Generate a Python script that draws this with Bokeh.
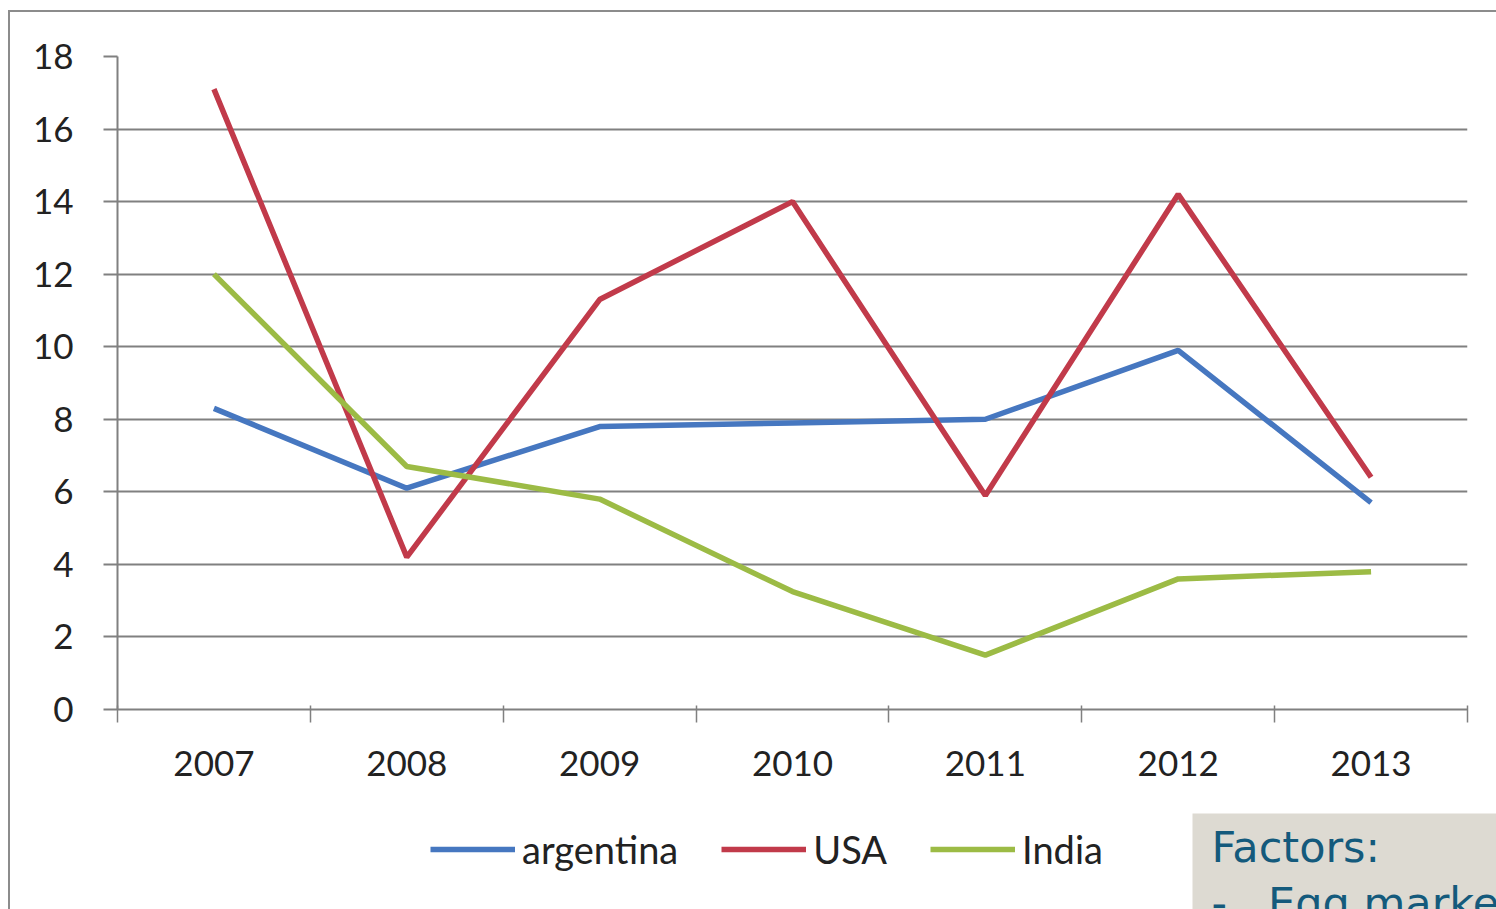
import numpy as np
from bokeh.plotting import figure
from bokeh.models import (Range1d, FixedTicker, Legend, LegendItem, Label,
                          CustomJSTickFormatter, InlineStyleSheet)
from bokeh.embed import file_html
from bokeh.resources import INLINE

years = [2007, 2008, 2009, 2010, 2011, 2012, 2013]
argentina = [8.3, 6.1, 7.8, 7.9, 8.0, 9.9, 5.7]
usa = [17.1, 4.2, 11.3, 14.0, 5.9, 14.2, 6.4]
india = [12.0, 6.7, 5.8, 3.25, 1.5, 3.6, 3.8]
y_ticks = [0, 2, 4, 6, 8, 10, 12, 14, 16, 18]
series_names = ["argentina", "USA", "India"]
series_colors = ["#4677C0", "#C13A4A", "#9CBB45"]
note_lines = ["Factors:", "-\u00a0\u00a0\u00a0Egg market"]

FONT = "Lato"
GRID = "#808080"
LW = 5.5

# ---------------- main chart ----------------
p = figure(width=1496, height=909, output_backend="svg", toolbar_location=None,
           x_range=Range1d(years[0] - 0.5, years[-1] + 0.5),
           y_range=Range1d(y_ticks[0], y_ticks[-1]),
           min_border_left=117, min_border_right=29,
           min_border_top=56, min_border_bottom=200,
           background_fill_color="white", border_fill_color="white")
p.outline_line_color = None

xa = p.xaxis[0]
xa.ticker = FixedTicker(ticks=years,
                        minor_ticks=[y - 0.5 for y in years] + [years[-1] + 0.5])
xa.major_tick_out = 0
xa.major_tick_in = 0
xa.minor_tick_out = 13
xa.minor_tick_in = 4
xa.minor_tick_line_color = GRID
xa.minor_tick_line_width = 1.5
xa.axis_line_color = GRID
xa.axis_line_width = 2
xa.major_label_text_font = FONT
xa.major_label_text_font_size = "35px"
xa.major_label_text_color = "#222222"
xa.major_label_standoff = 28
xa.formatter = CustomJSTickFormatter(code="return String(tick);")

ya = p.yaxis[0]
ya.ticker = FixedTicker(ticks=y_ticks, minor_ticks=[])
ya.major_tick_out = 14
ya.major_tick_in = 0
ya.major_tick_line_color = GRID
ya.major_tick_line_width = 2
ya.axis_line_color = GRID
ya.axis_line_width = 2
ya.major_label_text_font = FONT
ya.major_label_text_font_size = "35px"
ya.major_label_text_color = "#222222"
ya.major_label_standoff = 30

p.xgrid.visible = False
p.ygrid.grid_line_color = GRID
p.ygrid.grid_line_width = 2

for vals, col in zip([argentina, usa, india], series_colors):
    p.line(years, vals, line_color=col, line_width=LW)

# outer chart frame (left and top edges visible in the window)
p.stylesheets = [InlineStyleSheet(css="""
:host { position: relative; overflow: hidden; }
:host::after { content: ''; position: absolute; left: 8px; top: 10px;
  width: 3000px; height: 3000px; border: 2px solid #8c8c8c;
  pointer-events: none; }
""")]

# ---------------- legend strip ----------------
p3 = figure(width=772, height=60, output_backend="svg", toolbar_location=None,
            x_range=Range1d(0, 1), y_range=Range1d(0, 1),
            x_axis_type=None, y_axis_type=None,
            min_border_left=0, min_border_right=0,
            min_border_top=0, min_border_bottom=0,
            background_fill_alpha=0, border_fill_alpha=0)
p3.outline_line_color = None
p3.grid.visible = False
p3.styles = {"position": "absolute", "left": "420px", "top": "822px"}

items = []
for name, col in zip(series_names, series_colors):
    r = p3.line([np.nan], [np.nan], line_color=col, line_width=LW)
    items.append(LegendItem(label=name, renderers=[r]))

legend = Legend(items=items, orientation="horizontal", location=(10, 10),
                label_text_font=FONT, label_text_font_size="38px",
                label_text_color="#222222",
                glyph_width=85, glyph_height=40, label_height=40,
                label_standoff=7, spacing=43, padding=0, margin=0,
                border_line_color=None, background_fill_alpha=0)
p3.add_layout(legend, "center")

# ---------------- grey "Factors" box ----------------
p2 = figure(width=304, height=96, output_backend="svg", toolbar_location=None,
            x_range=Range1d(0, 304), y_range=Range1d(96, 0),
            x_axis_type=None, y_axis_type=None,
            min_border_left=0, min_border_right=0,
            min_border_top=0, min_border_bottom=0,
            background_fill_color="#DDDAD2", border_fill_color="#DDDAD2")
p2.outline_line_color = None
p2.grid.visible = False
p2.styles = {"position": "absolute", "left": "1192px", "top": "813px"}

factors = Label(x=19, y=8, text="\n".join(note_lines), text_align="left",
                text_baseline="top", text_font="DejaVu Sans",
                text_font_size="43px", text_color="#145A7C",
                text_line_height=1.12)
p2.add_layout(factors)

open("out.html", "w").write(file_html([p, p3, p2], INLINE))
